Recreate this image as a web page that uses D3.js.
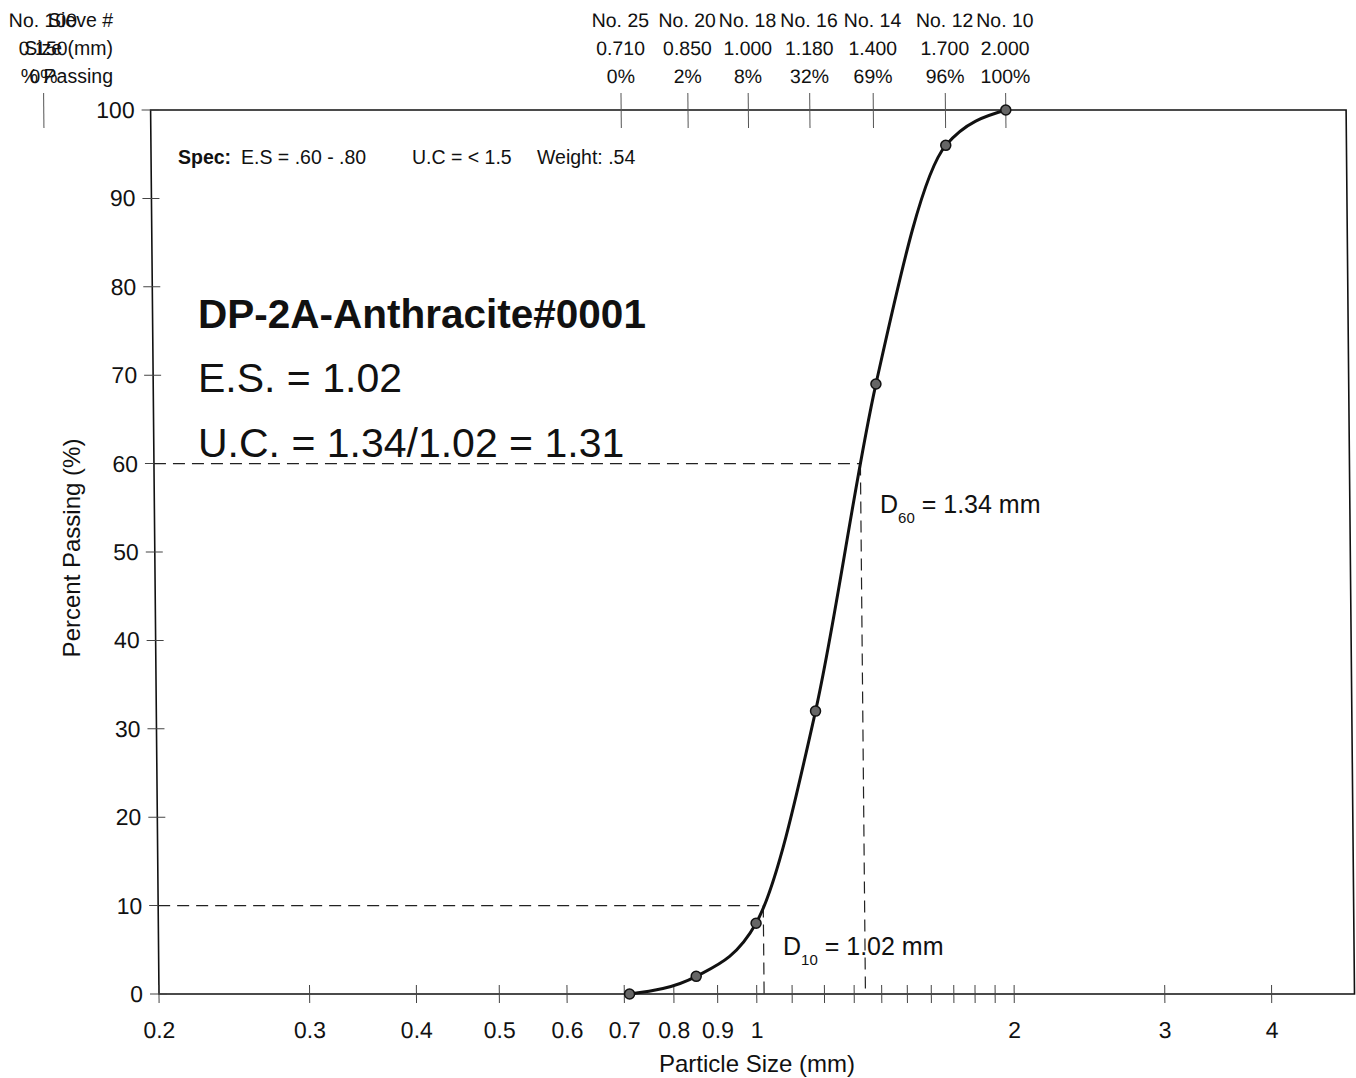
<!DOCTYPE html>
<html>
<head>
<meta charset="utf-8">
<script src="https://cdn.jsdelivr.net/npm/d3@7"></script>
<style>
  body { margin: 0; background: #fff; }
  text { font-family: "Liberation Sans", Arial, sans-serif; fill: #111; }
</style>
</head>
<body>
<script>
(function(){

//sieve data
var sieveNames = ["No. 100", "No. 25", "No. 20", "No. 18", "No. 16", "No. 14", "No. 12", "No. 10"];
var sieveSizes = [0.150, 0.710, 0.850, 1.000, 1.180, 1.400, 1.700, 2.000];
var percentPassing = [0, 0, 2, 8, 32, 69, 96, 100];

//axis ticks
var xTickLabels = [0.2, 0.3, 0.4, 0.5, 0.6, 0.7, 0.8, 0.9, 1, 2, 3, 4];
var xMinorTicks = [1.1, 1.2, 1.3, 1.4, 1.5, 1.6, 1.7, 1.8, 1.9];
var yTicks = [0, 10, 20, 30, 40, 50, 60, 70, 80, 90, 100];

//effective size lines
var dLines = [{name: "60", size: 1.34, pct: 60}, {name: "10", size: 1.02, pct: 10}];

var width = 1356, height = 1078;
var left = 159, right = 1354.5, top = 110, bottom = 994;
var skew = 0.0095; //the scanned sheet leans a little

var x = d3.scaleLog().domain([0.2, 5]).range([left, right]);
var y = d3.scaleLinear().domain([0, 100]).range([bottom, top]);

var svg = d3.select("body")
  .append("svg")
  .attr("width", width)
  .attr("height", height);

var g = svg.append("g")
  .attr("transform", "matrix(1,0," + skew + ",1," + (-skew * bottom) + ",0)");

//frame
g.append("rect")
  .attr("x", left)
  .attr("y", top)
  .attr("width", right - left)
  .attr("height", bottom - top)
  .attr("fill", "none")
  .attr("stroke", "#111")
  .attr("stroke-width", 1.6);

//y ticks and labels
g.selectAll(".ytick")
  .data(yTicks)
  .enter()
  .append("line")
  .attr("class", "ytick")
  .attr("x1", left - 9)
  .attr("x2", left + 8)
  .attr("y1", function(d){ return y(d); })
  .attr("y2", function(d){ return y(d); })
  .attr("stroke", "#444")
  .attr("stroke-width", 1);

g.selectAll(".ylabel")
  .data(yTicks)
  .enter()
  .append("text")
  .attr("class", "ylabel")
  .attr("x", left - 16)
  .attr("y", function(d){ return y(d) + 8; })
  .attr("text-anchor", "end")
  .style("font-size", "23px")
  .text(function(d){ return d; });

//x ticks
g.selectAll(".xtick")
  .data(xTickLabels.concat(xMinorTicks))
  .enter()
  .append("line")
  .attr("class", "xtick")
  .attr("x1", function(d){ return x(d); })
  .attr("x2", function(d){ return x(d); })
  .attr("y1", bottom - 9)
  .attr("y2", bottom + 9)
  .attr("stroke", "#444")
  .attr("stroke-width", 1);

g.selectAll(".xlabel")
  .data(xTickLabels)
  .enter()
  .append("text")
  .attr("class", "xlabel")
  .attr("x", function(d){ return x(d); })
  .attr("y", bottom + 44)
  .attr("text-anchor", "middle")
  .style("font-size", "23px")
  .text(function(d){ return d; });

//sieve header lines
g.selectAll(".sieveline")
  .data(sieveSizes)
  .enter()
  .append("line")
  .attr("class", "sieveline")
  .attr("x1", function(d){ return x(d); })
  .attr("x2", function(d){ return x(d); })
  .attr("y1", 93)
  .attr("y2", 128)
  .attr("stroke", "#555")
  .attr("stroke-width", 1);

var header = g.selectAll(".sieve")
  .data(sieveSizes)
  .enter()
  .append("text")
  .attr("class", "sieve")
  .attr("text-anchor", "middle")
  .style("font-size", "19.5px");

header.append("tspan")
  .attr("x", function(d){ return x(d); })
  .attr("y", 27)
  .text(function(d, i){ return sieveNames[i]; });
header.append("tspan")
  .attr("x", function(d){ return x(d); })
  .attr("y", 55)
  .text(function(d){ return d.toFixed(3); });
header.append("tspan")
  .attr("x", function(d){ return x(d); })
  .attr("y", 83)
  .text(function(d, i){ return percentPassing[i] + "%"; });

//dashed D60 / D10 guides
g.selectAll(".dh")
  .data(dLines)
  .enter()
  .append("path")
  .attr("class", "dh")
  .attr("d", function(d){
    return "M" + left + "," + y(d.pct) + "H" + x(d.size) + "M" + x(d.size) + "," + y(d.pct) + "V" + bottom;
  })
  .attr("fill", "none")
  .attr("stroke", "#222")
  .attr("stroke-width", 1.2)
  .attr("stroke-dasharray", "12,7");

//gradation curve
var pts = sieveSizes.map(function(s, i){ return [s, percentPassing[i]]; })
  .filter(function(d){ return d[0] >= 0.2; });

var line = d3.line()
  .x(function(d){ return x(d[0]); })
  .y(function(d){ return y(d[1]); })
  .curve(d3.curveMonotoneX);

g.append("path")
  .datum(pts)
  .attr("d", line)
  .attr("fill", "none")
  .attr("stroke", "#111")
  .attr("stroke-width", 3);

g.selectAll(".pt")
  .data(pts)
  .enter()
  .append("circle")
  .attr("class", "pt")
  .attr("cx", function(d){ return x(d[0]); })
  .attr("cy", function(d){ return y(d[1]); })
  .attr("r", 5)
  .attr("fill", "#666")
  .attr("stroke", "#111")
  .attr("stroke-width", 1.5);

//header row titles
var rowTitles = svg.append("text")
  .attr("text-anchor", "end")
  .style("font-size", "19.5px");
["Sieve #", "Size (mm)", "% Passing"].forEach(function(t, i){
  rowTitles.append("tspan").attr("x", 113).attr("y", 27 + i * 28).text(t);
});

//axis titles
svg.append("text")
  .attr("transform", "translate(80,548) rotate(-90)")
  .attr("text-anchor", "middle")
  .style("font-size", "24px")
  .text("Percent Passing (%)");

svg.append("text")
  .attr("x", 757)
  .attr("y", 1072)
  .attr("text-anchor", "middle")
  .style("font-size", "24px")
  .text("Particle Size (mm)");

//spec line
var spec = svg.append("text").attr("y", 164).style("font-size", "19.5px");
spec.append("tspan").attr("x", 178).style("font-weight", "bold").text("Spec:");
spec.append("tspan").attr("x", 241).text("E.S = .60 - .80");
spec.append("tspan").attr("x", 412).text("U.C = < 1.5");
spec.append("tspan").attr("x", 537).text("Weight: .54");

//sample annotation
svg.append("text")
  .attr("x", 198).attr("y", 328)
  .style("font-size", "40.5px").style("font-weight", "bold")
  .text("DP-2A-Anthracite#0001");
svg.append("text")
  .attr("x", 198).attr("y", 392)
  .style("font-size", "41px")
  .text("E.S. = 1.02");
svg.append("text")
  .attr("x", 198).attr("y", 457)
  .style("font-size", "41px")
  .text("U.C. = 1.34/1.02 = 1.31");

//D60 and D10 labels
var dLabelPos = [[880, 513], [783, 955]];
dLines.forEach(function(d, i){
  var t = svg.append("text")
    .attr("x", dLabelPos[i][0])
    .attr("y", dLabelPos[i][1])
    .style("font-size", "25px");
  t.append("tspan").text("D");
  t.append("tspan").attr("dy", 10).style("font-size", "15px").text(d.name);
  t.append("tspan").attr("dy", -10).text(" = " + d.size.toFixed(2) + " mm");
});

})();
</script>
</body>
</html>
